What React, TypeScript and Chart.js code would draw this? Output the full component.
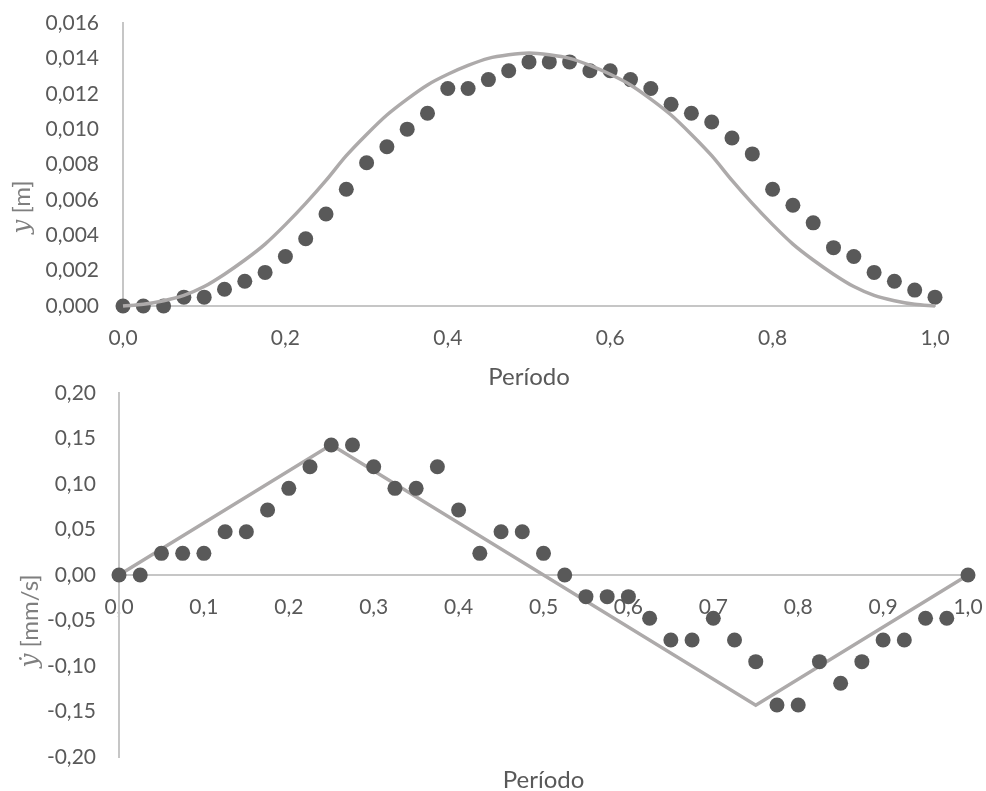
import React, { useEffect, useRef } from "react";
import { Chart, registerables } from "chart.js";

Chart.register(...registerables);

// ---------- data ----------
const periodo = [
  0, 0.025, 0.05, 0.075, 0.1, 0.125, 0.15, 0.175, 0.2, 0.225,
  0.25, 0.275, 0.3, 0.325, 0.35, 0.375, 0.4, 0.425, 0.45, 0.475,
  0.5, 0.525, 0.55, 0.575, 0.6, 0.625, 0.65, 0.675, 0.7, 0.725,
  0.75, 0.775, 0.8, 0.825, 0.85, 0.875, 0.9, 0.925, 0.95, 0.975, 1.0,
];

const desplazamientoMedido = [
  0, 0, 0, 0.0005, 0.0005, 0.00095, 0.0014, 0.0019, 0.0028, 0.0038,
  0.0052, 0.0066, 0.0081, 0.009, 0.01, 0.0109, 0.0123, 0.0123, 0.0128, 0.0133,
  0.0138, 0.0138, 0.0138, 0.0133, 0.0133, 0.0128, 0.0123, 0.0114, 0.0109, 0.0104,
  0.0095, 0.0086, 0.0066, 0.0057, 0.0047, 0.0033, 0.0028, 0.0019, 0.0014, 0.0009, 0.0005,
];

const desplazamientoTeorico = [
  0, 0.0001, 0.0003, 0.0006, 0.0011, 0.0018, 0.0026, 0.0035, 0.0046, 0.0058,
  0.0071, 0.0085, 0.0097, 0.0108, 0.0117, 0.0125, 0.0131, 0.0136, 0.014, 0.0142,
  0.0143, 0.0142, 0.014, 0.0136, 0.0131, 0.0125, 0.0117, 0.0108, 0.0097, 0.0085,
  0.0071, 0.0058, 0.0046, 0.0035, 0.0026, 0.0018, 0.0011, 0.0006, 0.0003, 0.0001, 0,
];

const velocidadMedida = [
  0, 0, 0.0238, 0.0238, 0.0238, 0.0476, 0.0476, 0.0714, 0.0952, 0.119,
  0.1428, 0.1428, 0.119, 0.0952, 0.0952, 0.119, 0.0714, 0.0238, 0.0476, 0.0476,
  0.0238, 0, -0.0238, -0.0238, -0.0238, -0.0476, -0.0714, -0.0714, -0.0476, -0.0714,
  -0.0952, -0.1428, -0.1428, -0.0952, -0.119, -0.0952, -0.0714, -0.0714, -0.0476, -0.0476, 0,
];

const velocidadTeoricaX = [0, 0.25, 0.75, 1.0];
const velocidadTeoricaY = [0, 0.143, -0.143, 0];

const xTitle = "Período";
const yTitleTop = ["y", " [m]"];
const yTitleBottom = ["ẏ", " [mm/s]"];

// ---------- styles ----------
const TEXT = "#595959";
const TITLE = "#7f7f7f";
const AXIS = "#c6c6c6";
const POINT = "#595959";
const LINE = "#adaaaa";
const FONT = "Lato";

const commaFmt = (digits: number) => (v: any) =>
  Number(v).toFixed(digits).replace(".", ",");

function drawRotatedTitle(ctx: CanvasRenderingContext2D, parts: string[], cx: number, cy: number) {
  ctx.save();
  ctx.translate(cx, cy);
  ctx.rotate(-Math.PI / 2);
  ctx.fillStyle = TITLE;
  ctx.textBaseline = "middle";
  ctx.textAlign = "left";
  const f1 = "italic 25px 'DejaVu Serif'";
  const f2 = `24px ${FONT}`;
  ctx.font = f1;
  const w1 = ctx.measureText(parts[0]).width;
  ctx.font = f2;
  const w2 = ctx.measureText(parts[1]).width;
  const start = -(w1 + w2) / 2;
  ctx.font = f1;
  ctx.fillText(parts[0], start, 0);
  ctx.font = f2;
  ctx.fillText(parts[1], start + w1, 0);
  ctx.restore();
}

function drawXTitle(ctx: CanvasRenderingContext2D, cx: number, cy: number) {
  ctx.save();
  ctx.fillStyle = TEXT;
  ctx.textBaseline = "middle";
  ctx.textAlign = "center";
  ctx.font = `24px ${FONT}`;
  ctx.fillText(xTitle, cx, cy);
  ctx.restore();
}

export default function App() {
  const topRef = useRef<HTMLCanvasElement>(null);
  const botRef = useRef<HTMLCanvasElement>(null);

  useEffect(() => {
    Chart.defaults.font.family = FONT;
    Chart.defaults.color = TEXT;

    const topTitles = {
      id: "topTitles",
      afterDraw(chart: any) {
        const { ctx, chartArea } = chart;
        drawXTitle(ctx, (chartArea.left + chartArea.right) / 2, 377);
        drawRotatedTitle(ctx, yTitleTop, 22, 207);
      },
    };
    const botTitles = {
      id: "botTitles",
      afterDraw(chart: any) {
        const { ctx, chartArea } = chart;
        drawXTitle(ctx, (chartArea.left + chartArea.right) / 2, 780 - 370);
        drawRotatedTitle(ctx, yTitleBottom, 30, 621 - 370);
      },
    };

    const fitY = (w: number) => (s: any) => {
      s.width = w;
      s.paddingTop = 0;
      s.paddingBottom = 0;
    };
    const fitX = (h: number | null) => (s: any) => {
      if (h !== null) s.height = h;
      s.paddingLeft = 0;
      s.paddingRight = 0;
    };

    const top = new Chart(topRef.current!, {
      type: "scatter",
      data: {
        datasets: [
          {
            type: "line",
            data: periodo.map((x, i) => ({ x, y: desplazamientoTeorico[i] })),
            borderColor: LINE,
            borderWidth: 3.5,
            pointRadius: 0,
            cubicInterpolationMode: "monotone",
            fill: false,
            clip: false,
          } as any,
          {
            data: periodo.map((x, i) => ({ x, y: desplazamientoMedido[i] })),
            backgroundColor: POINT,
            borderWidth: 0,
            pointRadius: 7.5,
            clip: false,
          } as any,
        ],
      },
      options: {
        animation: false,
        responsive: false,
        events: [],
        layout: { padding: { left: 0, right: 51, top: 23, bottom: 0 } },
        plugins: { legend: { display: false }, tooltip: { enabled: false } },
        scales: {
          x: {
            type: "linear",
            min: 0,
            max: 1,
            afterFit: fitX(89),
            grid: { display: false, drawTicks: false },
            border: { display: true, color: AXIS, width: 2 },
            ticks: { stepSize: 0.2, padding: 20, font: { size: 21 }, color: TEXT, callback: commaFmt(1), maxRotation: 0 },
          },
          y: {
            min: 0,
            max: 0.016,
            afterFit: fitY(123),
            grid: { display: false, drawTicks: false },
            border: { display: true, color: AXIS, width: 2 },
            ticks: { stepSize: 0.002, padding: 24, font: { size: 21 }, color: TEXT, callback: commaFmt(3) },
          },
        },
      },
      plugins: [topTitles],
    } as any);

    const bot = new Chart(botRef.current!, {
      type: "scatter",
      data: {
        datasets: [
          {
            data: periodo.map((x, i) => ({ x, y: velocidadMedida[i] })),
            backgroundColor: POINT,
            borderWidth: 0,
            pointRadius: 7.5,
            clip: false,
          } as any,
          {
            type: "line",
            data: velocidadTeoricaX.map((x, i) => ({ x, y: velocidadTeoricaY[i] })),
            borderColor: LINE,
            borderWidth: 3.5,
            pointRadius: 0,
            tension: 0,
            fill: false,
            clip: false,
          } as any,
        ],
      },
      options: {
        animation: false,
        responsive: false,
        events: [],
        layout: { padding: { left: 0, right: 18, top: 23, bottom: 34 } },
        plugins: { legend: { display: false }, tooltip: { enabled: false } },
        scales: {
          x: {
            type: "linear",
            min: 0,
            max: 1,
            position: { y: 0 },
            afterFit: fitX(null),
            grid: { display: false, drawTicks: false },
            border: { display: true, color: AXIS, width: 2 },
            ticks: { stepSize: 0.1, padding: 20, font: { size: 21 }, color: TEXT, callback: commaFmt(1), maxRotation: 0, autoSkip: false },
          },
          y: {
            min: -0.2,
            max: 0.2,
            afterFit: fitY(119),
            grid: { display: false, drawTicks: false },
            border: { display: true, color: AXIS, width: 2 },
            ticks: { stepSize: 0.05, padding: 23, font: { size: 21 }, color: TEXT, callback: commaFmt(2) },
          },
        },
      },
      plugins: [botTitles],
    } as any);

    return () => {
      top.destroy();
      bot.destroy();
    };
  }, []);

  return (
    <div style={{ position: "absolute", left: 0, top: 0, width: 986, height: 791, background: "#fff" }}>
      <canvas ref={topRef} width={986} height={395} style={{ position: "absolute", left: 0, top: 0, width: 986, height: 395 }} />
      <canvas ref={botRef} width={986} height={421} style={{ position: "absolute", left: 0, top: 370, width: 986, height: 421 }} />
    </div>
  );
}
